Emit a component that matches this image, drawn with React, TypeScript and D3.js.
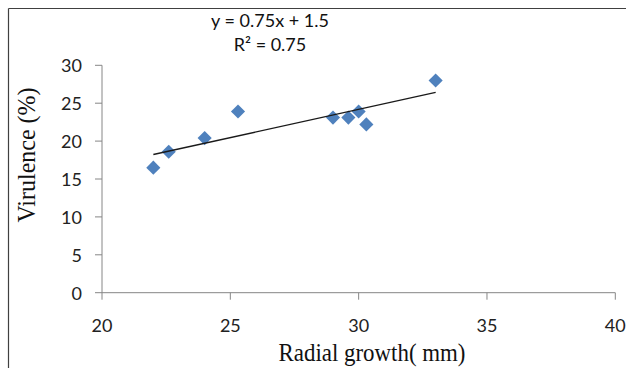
import React from "react";
import * as d3 from "d3";

const radialGrowth: number[] = [22, 22.6, 24, 25.3, 29, 29.6, 30, 30.3, 33];
const virulence: number[] = [16.5, 18.6, 20.4, 23.9, 23.1, 23.1, 23.9, 22.2, 28];
const xTicks: number[] = [20, 25, 30, 35, 40];
const yTicks: number[] = [0, 5, 10, 15, 20, 25, 30];
const equationLines: string[] = ["y = 0.75x + 1.5", "R² = 0.75"];
const xTitle = "Radial growth( mm)";
const yTitle = "Virulence (%)";

const W = 626;
const H = 368;
const AXIS = "#868686";
const BLUE = "#4F81BD";
const SANS = "Lato, 'Open Sans', sans-serif";
const SERIF = "'Liberation Serif', 'DejaVu Serif', serif";

export default function App() {
  const x = d3.scaleLinear().domain([20, 40]).range([102, 615.3]);
  const y = d3.scaleLinear().domain([0, 30]).range([292.7, 65.3]);

  const pts = radialGrowth.map((v, i) => [v, virulence[i]] as [number, number]);
  const mx = d3.mean(radialGrowth) as number;
  const my = d3.mean(virulence) as number;
  const sxy = d3.sum(pts, (p) => (p[0] - mx) * (p[1] - my));
  const sxx = d3.sum(pts, (p) => (p[0] - mx) ** 2);
  const slope = sxy / sxx;
  const intercept = my - slope * mx;
  const [x0, x1] = d3.extent(radialGrowth) as [number, number];
  const trend = d3.line<number>()
    .x((d) => x(d))
    .y((d) => y(slope * d + intercept))([x0, x1]) as string;

  const diamond = d3.symbol(d3.symbolSquare, 100)() as string;

  return (
    <svg
      width={W}
      height={H}
      style={{ position: "absolute", left: 0, top: 0, background: "#fff" }}
    >
      <rect x={0} y={0} width={W} height={H} fill="#fff" />
      {/* outer frame */}
      <line x1={8.5} y1={8.5} x2={W} y2={8.5} stroke="#404040" strokeWidth={1.2} />
      <line x1={8.5} y1={8.5} x2={8.5} y2={H} stroke="#404040" strokeWidth={1.2} />

      {/* equation */}
      <g fontFamily={SANS} fontSize={18} fill="#111" textAnchor="middle">
        {equationLines.map((t, i) => (
          <text key={i} x={270} y={26.5 + i * 24.5}>{t}</text>
        ))}
      </g>

      {/* y axis */}
      <line x1={x(20)} y1={y(0)} x2={x(20)} y2={y(30)} stroke={AXIS} strokeWidth={1} />
      {yTicks.map((t) => (
        <g key={"y" + t}>
          <line x1={x(20) - 7} x2={x(20)} y1={y(t)} y2={y(t)} stroke={AXIS} strokeWidth={1} />
          <text
            x={82}
            y={y(t)}
            textAnchor="end"
            dominantBaseline="central"
            fontFamily={SANS}
            fontSize={18}
            fill="#222"
          >
            {t}
          </text>
        </g>
      ))}

      {/* x axis */}
      <line x1={x(20)} y1={y(0)} x2={x(40)} y2={y(0)} stroke={AXIS} strokeWidth={1} />
      {xTicks.map((t) => (
        <g key={"x" + t}>
          <line x1={x(t)} x2={x(t)} y1={y(0)} y2={y(0) + 7} stroke={AXIS} strokeWidth={1} />
          <text
            x={x(t)}
            y={325}
            textAnchor="middle"
            dominantBaseline="central"
            fontFamily={SANS}
            fontSize={18}
            fill="#222"
          >
            {t}
          </text>
        </g>
      ))}

      {/* titles */}
      <text
        x={372}
        y={361}
        textAnchor="middle"
        fontFamily={SERIF}
        fontSize={25}
        fill="#111"
        textLength={187}
        lengthAdjust="spacingAndGlyphs"
      >
        {xTitle}
      </text>
      <text
        transform={`translate(35,155) rotate(-90)`}
        textAnchor="middle"
        fontFamily={SERIF}
        fontSize={26}
        fill="#111"
        textLength={135}
        lengthAdjust="spacingAndGlyphs"
      >
        {yTitle}
      </text>

      {/* points */}
      {pts.map((p, i) => (
        <path
          key={i}
          d={diamond}
          transform={`translate(${x(p[0])},${y(p[1])}) rotate(45)`}
          fill={BLUE}
        />
      ))}

      {/* trendline */}
      <path d={trend} fill="none" stroke="#1a1a1a" strokeWidth={1.4} />
    </svg>
  );
}
